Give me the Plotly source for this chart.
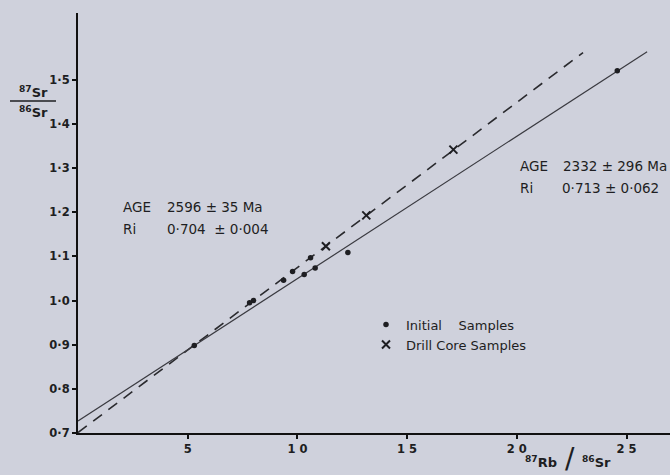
import plotly.graph_objects as go

# ---- data ----
initial_x = [24.58, 12.30, 10.60, 10.81, 9.78, 10.31, 9.37, 8.00, 7.82, 5.30]
initial_y = [1.521, 1.109, 1.097, 1.074, 1.066, 1.059, 1.046, 1.000, 0.995, 0.898]

drill_x = [17.11, 13.14, 11.30]
drill_y = [1.342, 1.193, 1.123]

solid_line_x = [0.0, 25.94]
solid_line_y = [0.727, 1.564]

dashed_line_x = [0.0, 23.02]
dashed_line_y = [0.701, 1.562]

y_tick_vals = [0.7, 0.8, 0.9, 1.0, 1.1, 1.2, 1.3, 1.4, 1.5]
y_tick_text = ["0·7", "0·8", "0·9", "1·0", "1·1", "1·2", "1·3", "1·4", "1·5"]
x_tick_vals = [5, 10, 15, 20, 25]
x_tick_text = ["5", "1 0", "1 5", "2 0", "2 5"]

# ---- layout helpers (pixel -> paper) ----
W, H = 670, 475
ML, MR, MT, MB = 78, 0, 13, 41.5
PW, PH = W - ML - MR, H - MT - MB


def px(x):
    return (x - ML) / PW


def py(y):
    return (H - MB - y) / PH


BG = "#cfd1dc"
INK = "#1e1e22"
FONT = "DejaVu Sans"

fig = go.Figure()

fig.add_trace(go.Scatter(
    x=dashed_line_x, y=dashed_line_y, mode="lines",
    line=dict(color="#2a2a2e", width=1.6, dash="11px,8px"),
    showlegend=False, hoverinfo="skip"))
fig.add_trace(go.Scatter(
    x=solid_line_x, y=solid_line_y, mode="lines",
    line=dict(color="#3a3a40", width=1.2),
    showlegend=False, hoverinfo="skip"))

fig.add_trace(go.Scatter(
    x=initial_x, y=initial_y, mode="markers", name="Initial\u00a0\u00a0\u00a0\u00a0Samples",
    marker=dict(symbol="circle", size=5.5, color=INK)))
fig.add_trace(go.Scatter(
    x=drill_x, y=drill_y, mode="markers", name="Drill Core Samples",
    marker=dict(symbol="x-thin", size=8, color=INK, line=dict(width=2, color=INK))))

axis_font = dict(family=FONT, size=11.5, color=INK, weight="bold")

fig.update_layout(
    width=W, height=H,
    margin=dict(l=ML, r=MR, t=MT, b=MB),
    paper_bgcolor=BG, plot_bgcolor=BG,
    font=dict(family=FONT, color=INK),
    xaxis=dict(range=[0, PW / 21.94], showgrid=False, zeroline=False,
               showline=True, linecolor="#111", linewidth=2,
               tickvals=x_tick_vals, ticktext=x_tick_text,
               ticks="outside", ticklen=4, tickwidth=1.5, tickcolor="#111",
               tickfont=axis_font, automargin=False),
    yaxis=dict(range=[0.7, 0.7 + PH / 441.9], showgrid=False, zeroline=False,
               showline=True, linecolor="#111", linewidth=2,
               tickvals=y_tick_vals, ticktext=y_tick_text,
               ticks="outside", ticklen=4, tickwidth=1.5, tickcolor="#111",
               tickfont=axis_font, automargin=False),
    legend=dict(x=px(366), y=py(310), xanchor="left", yanchor="top",
                bgcolor="rgba(0,0,0,0)",
                font=dict(family=FONT, size=13, color=INK),
                itemsizing="trace", tracegroupgap=0),
)

ann_font = dict(family=FONT, size=13.5, color=INK)


def txt(x, y, s, size=None, xanchor="left", weight="normal"):
    f = dict(ann_font)
    f["weight"] = weight
    if size:
        f["size"] = size
    fig.add_annotation(x=px(x), y=py(y), xref="paper", yref="paper", text=s,
                       showarrow=False, xanchor=xanchor, yanchor="middle", font=f)


# left age block
txt(121, 207, "AGE")
txt(165, 207, "2596 ± 35 Ma")
txt(121, 229, "Ri")
txt(165, 229, "0·704\u00a0\u00a0± 0·004")

# right age block
txt(518, 166, "AGE")
txt(561, 166, "2332 ± 296 Ma")
txt(518, 188, "Ri")
txt(560, 188, "0·713 ± 0·062")

# y axis title as fraction
txt(33, 92, "<sup>87</sup>Sr", size=13, xanchor="center", weight="bold")
txt(33, 112, "<sup>86</sup>Sr", size=13, xanchor="center", weight="bold")
fig.add_shape(type="line", xref="paper", yref="paper",
              x0=px(10), x1=px(56), y0=py(101), y1=py(101),
              line=dict(color=INK, width=1.5))

# x axis title
txt(541, 463, "<sup>87</sup>Rb", size=13, xanchor="center", weight="bold")
txt(570, 459, "/", size=28, xanchor="center")
txt(596, 463, "<sup>86</sup>Sr", size=13, xanchor="center", weight="bold")

fig.write_html("out.html", config={"displayModeBar": False},
               post_script="document.body.style.margin='0px';document.body.style.background='" + BG + "';")
